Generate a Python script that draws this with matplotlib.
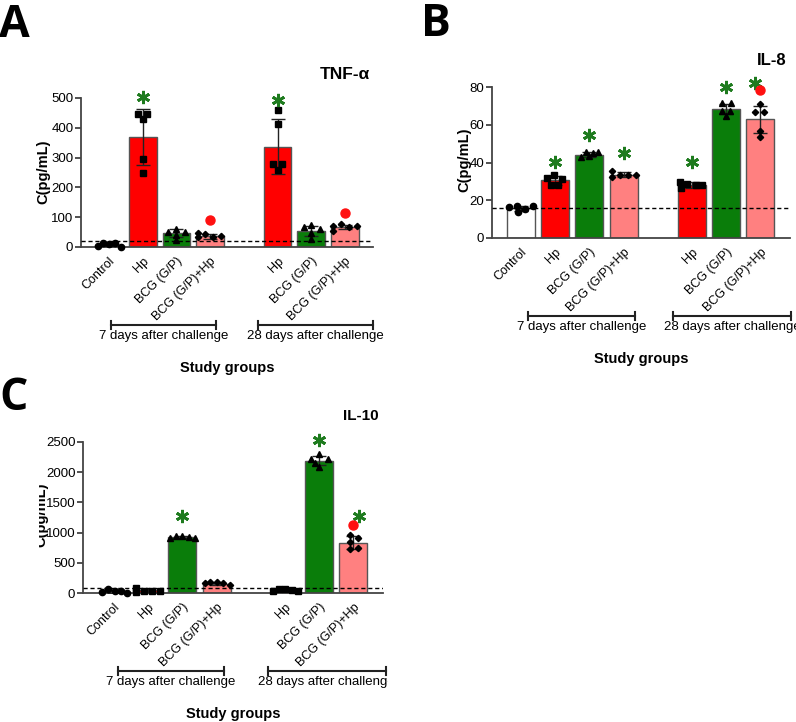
import numpy as np
import matplotlib
matplotlib.use('Agg')
import matplotlib.pyplot as plt
from matplotlib.transforms import Bbox, TransformedBbox

plt.rcParams['font.family'] = ['Liberation Sans', 'DejaVu Sans']

# ---------------- data ----------------
groups = ['Control', 'Hp', 'BCG (G/P)', 'BCG (G/P)+Hp', 'Hp', 'BCG (G/P)', 'BCG (G/P)+Hp']
periods = ['7 days after challenge', '28 days after challenge']

# Panel A: TNF-alpha
tnf_mean = [8, 370, 46, 36, 336, 55, 66]
tnf_sd = [4, 94, 14, 8, 92, 17, 7]
tnf_points = [[4, 12, 9, 12, 1], [445, 445, 428, 294, 247], [51, 59, 51, 40, 23],
              [48, 42, 33, 38, 33], [459, 414, 277, 277, 260], [68, 74, 59, 48, 26],
              [70, 76, 68, 70, 55]]
tnf_stars = [None, 503, None, None, 492, None, None]
tnf_dots = [None, None, None, 90, None, None, 113]
tnf_cutoff = 20

# Panel B: IL-8
il8_mean = [15.7, 30.5, 44, 33.5, 28, 68.3, 62.9]
il8_sd = [1.2, 2.4, 1.3, 1.3, 1.5, 2.7, 7.2]
il8_points = [[16.3, 16.7, 13.7, 15.3, 16.7], [31.6, 33.4, 28.1, 28.1, 31.1],
              [43, 45.5, 43.2, 45.2, 45.5], [35.5, 32.5, 33.4, 33.4, 33.4],
              [29.9, 26.5, 28.5, 28, 28], [71.4, 71.4, 67.5, 67.5, 64.8],
              [71, 66.6, 66.6, 56.7, 53.7]]
il8_stars = [None, 40.4, 54.5, 44.8, 40.1, 79.8, 82]
il8_dots = [None, None, None, None, None, None, 78.5]
il8_cutoff = 16

# Panel C: IL-10
il10_mean = [30, 44, 922, 149, 50, 2191, 834]
il10_sd = [25, 25, 18, 22, 18, 78, 110]
il10_points = [[11, 66, 39, 39, 2], [83, 11, 39, 28, 39], [911, 950, 939, 928, 911],
               [166, 182, 182, 166, 138], [39, 72, 72, 55, 28],
               [2302, 2219, 2219, 2153, 2081], [960, 906, 850, 724, 740]]
il10_stars = [None, None, 1270, None, None, 2539, 1270]
il10_dots = [None, None, None, None, None, None, 1126]
il10_cutoff = 80

# ---------------- layout / style ----------------
positions = [0, 1, 2, 3, 5, 6, 7]
colors = ['white', '#ff0000', '#0a7d0a', '#ff8080', '#ff0000', '#0a7d0a', '#ff8080']
markers = ['o', 's', '^', 'D', 's', '^', 'D']
msizes = [4.5, 4.5, 5, 3.2, 4.5, 5, 3.2]
STAR_C = '#1e7b1e'

offs_A = [[-0.34, -0.17, 0, 0.18, 0.37], [-0.13, 0.13, 0, 0, 0], [-0.26, 0, 0.26, 0, 0],
          [-0.37, -0.15, 0.09, 0.31, -0.37], [0, 0, -0.13, 0.13, 0], [-0.22, 0, 0.26, 0, 0],
          [-0.35, -0.11, 0.11, 0.36, -0.35]]
offs_B = [[-0.34, -0.13, -0.1, 0.13, 0.36], [-0.25, -0.03, -0.13, 0.09, 0.21],
          [-0.25, -0.1, 0, 0.1, 0.25], [-0.35, -0.35, -0.1, 0.13, 0.36],
          [-0.35, -0.33, -0.13, 0.12, 0.3], [-0.13, 0.14, -0.13, 0.12, 0],
          [0, -0.14, 0.12, 0, 0]]
offs_C = [[-0.36, -0.17, 0.03, 0.2, 0.37], [-0.36, -0.36, -0.12, 0.11, 0.35],
          [-0.36, -0.19, 0, 0.19, 0.38], [-0.35, -0.2, 0, 0.18, 0.38],
          [-0.35, -0.16, 0, 0.2, 0.38], [0, -0.24, 0.27, -0.12, 0],
          [-0.1, 0.14, -0.1, -0.1, 0.14]]

W, H = 796, 722
fig = plt.figure(figsize=(W / 100, H / 100), dpi=100)


def fx(px):
    return px / W


def fy(py):
    return 1 - py / H


def add_ax(left, right, top, bottom):
    return fig.add_axes([fx(left), fy(bottom), (right - left) / W, (bottom - top) / H])


def panel(ax, means, sds, points, offs, stars, dots, cutoff, ymax, ystep, xlim,
          star_dx=None, dot_dx=None, ytick_fs=9.5):
    ax.bar(positions, means, width=0.82, color=colors, edgecolor='#555555',
           linewidth=1, zorder=2)
    ax.errorbar(positions, means, yerr=sds, fmt='none', ecolor='#222222',
                elinewidth=1, capsize=5, capthick=1, zorder=3)
    ax.axhline(cutoff, color='black', lw=1, ls=(0, (3, 2)), zorder=4)
    for i, p in enumerate(positions):
        xs = [p + o for o in offs[i]]
        ax.plot(xs, points[i], ls='none', marker=markers[i], ms=msizes[i],
                color='black', zorder=5, clip_on=False)
        if stars[i] is not None:
            dx = star_dx[i] if star_dx else 0
            ax.plot([p + dx], [stars[i]], ls='none', marker=(6, 2, 0), ms=9.5,
                    mew=2.0, color=STAR_C, zorder=6, clip_on=False)
        if dots[i] is not None:
            dx = dot_dx[i] if dot_dx else 0
            ax.plot([p + dx], [dots[i]], ls='none', marker='o', ms=6.5,
                    color='#ff1010', zorder=6, clip_on=False)
    ax.set_xlim(*xlim)
    ax.set_ylim(0, ymax)
    ax.set_yticks(np.arange(0, ymax + 1e-9, ystep))
    ax.set_xticks(positions)
    ax.set_xticklabels(groups, rotation=45, ha='right', va='top',
                       rotation_mode='anchor', fontsize=9)
    ax.tick_params(axis='x', length=0, pad=6)
    ax.tick_params(axis='y', length=4, width=1.2, color='#333333', labelsize=ytick_fs, pad=1.5)
    for s in ['top', 'right']:
        ax.spines[s].set_visible(False)
    for s in ['left', 'bottom']:
        ax.spines[s].set_color('#444444')
        ax.spines[s].set_linewidth(1.3)
    ax.set_facecolor('none')


def brackets(ax, spans, hpx, clip_right=None):
    tr = ax.get_xaxis_transform()
    yb = -78 / hpx
    tick = 4 / hpx
    for (x0, x1), lab in zip(spans, periods):
        ax.plot([x0, x1], [yb, yb], color='#222222', lw=1.5, transform=tr, clip_on=False)
        for xx in (x0, x1):
            ax.plot([xx, xx], [yb - tick, yb + tick], color='#222222', lw=1.5,
                    transform=tr, clip_on=False)
        t = ax.text((x0 + x1) / 2, yb - 5 / hpx, lab, ha='center', va='top', fontsize=9.5,
                    transform=tr, clip_on=False)
        if clip_right is not None and lab == periods[1]:
            t.set_clip_box(TransformedBbox(Bbox([[0, 0], [fx(clip_right), 1]]), fig.transFigure))
            t.set_clip_on(True)
    ax.text(0.5, -114 / hpx, 'Study groups', ha='center', va='top', fontsize=10.5,
            fontweight='bold', transform=ax.transAxes)


# Panel A
axA = add_ax(81, 373, 98, 247)
panel(axA, tnf_mean, tnf_sd, tnf_points, offs_A, tnf_stars, tnf_dots, tnf_cutoff,
      500, 100, (-0.83, 7.83))
brackets(axA, [(0.06, 3.18), (4.42, 7.83)], 149)
fig.text(fx(370), fy(79), 'TNF-α', ha='right', va='baseline', fontsize=12.5, fontweight='bold')
fig.text(fx(43), fy(172), 'C(pg/mL)', rotation=90, ha='center', va='center',
         fontsize=10.5, fontweight='bold')

# Panel B
axB = add_ax(492, 790, 87, 238)
panel(axB, il8_mean, il8_sd, il8_points, offs_B, il8_stars, il8_dots, il8_cutoff,
      80, 20, (-0.85, 7.87), star_dx=[0, 0, 0, 0, 0, 0, -0.15], ytick_fs=9.5)
brackets(axB, [(0.2, 3.33), (4.44, 7.9)], 151)
fig.text(fx(787), fy(65), 'IL-8', ha='right', va='baseline', fontsize=12, fontweight='bold')
fig.text(fx(464), fy(160), 'C(pg/mL)', rotation=90, ha='center', va='center',
         fontsize=10.5, fontweight='bold')

# Panel C
axC = add_ax(83, 383, 442, 593)
panel(axC, il10_mean, il10_sd, il10_points, offs_C, il10_stars, il10_dots, il10_cutoff,
      2500, 500, (-0.91, 7.87), star_dx=[0, 0, 0, 0, 0, 0, 0.17])
brackets(axC, [(0.12, 3.22), (4.5, 7.95)], 151, clip_right=388)
fig.text(fx(379), fy(420), 'IL-10', ha='right', va='baseline', fontsize=11, fontweight='bold')
tC = fig.text(fx(41), fy(515), 'C(pg/mL)', rotation=90, ha='center', va='center',
              fontsize=10.5, fontweight='bold')
tC.set_clip_box(TransformedBbox(Bbox([[fx(38.5), 0], [1, 1]]), fig.transFigure))
tC.set_clip_on(True)

# Panel letters
fig.text(fx(-1), fy(37), 'A', ha='left', va='baseline', fontsize=32, fontweight='bold',
         family=['Open Sans', 'Liberation Sans'])
fig.text(fx(421), fy(36), 'B', ha='left', va='baseline', fontsize=32, fontweight='bold',
         family=['Open Sans', 'Liberation Sans'])
fig.text(fx(-1), fy(410), 'C', ha='left', va='baseline', fontsize=32, fontweight='bold',
         family=['Open Sans', 'Liberation Sans'])

fig.savefig('out.png', dpi=100)
